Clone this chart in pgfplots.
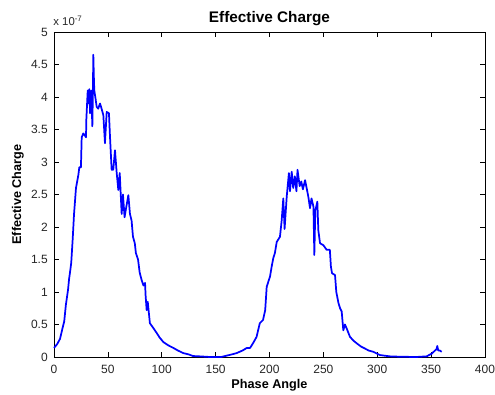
\documentclass[border=0pt]{standalone}
\usepackage{pgfplots}
\pgfplotsset{compat=1.18}
\usepackage{fontspec}
\setmainfont{Liberation Sans}
\setsansfont{Liberation Sans}
\begin{document}
\begin{tikzpicture}[x=1pt,y=1pt]
\useasboundingbox (-40.5pt,-27.75pt) rectangle (330.75pt,267.75pt);
\begin{axis}[
  at={(0,0)}, anchor=south west,
  scale only axis,
  width=323.25pt, height=243.75pt,
  xmin=0, xmax=400, ymin=0, ymax=5,
  xtick={0,50,...,400},
  ytick={0,0.5,...,5},
  yticklabels={0,0.5,1,1.5,2,2.5,3,3.5,4,4.5,5},
  tick align=inside,
  xtick pos=both, ytick pos=both,
  major tick length=3.5pt,
  minor tick num=0,
  /pgf/number format/assume math mode=true,
  tick label style={font=\fontsize{9}{10}\selectfont, text=black!85},
  xticklabel style={anchor=base, inner sep=0pt, yshift=-12pt},
  yticklabel style={anchor=east, inner sep=0pt, xshift=-4.5pt},
  axis line style={black, line width=0.5pt},
  every tick/.style={black, line width=0.5pt},
  title={\bfseries Effective Charge},
  title style={font=\fontsize{11.5}{12}\selectfont, at={(axis description cs:0.5,1.004)}, anchor=base, inner sep=0pt},
  xlabel={\bfseries Phase Angle},
  ylabel={\bfseries Effective Charge},
  label style={font=\fontsize{9.5}{10}\selectfont},
  xlabel style={at={(axis description cs:0.5,-0.0954)}, anchor=base, inner sep=0pt},
  ylabel style={at={(axis description cs:-0.084,0.5)}, anchor=center, inner sep=0pt},
  clip=false,
]
\addplot[blue, line width=1.3pt, line join=round] coordinates {
(0,0.14) (3,0.2) (5.6,0.28) (8,0.45) (9.5,0.55) (11,0.8) (13,1.03) (14,1.2) (15,1.32) (16,1.45) (17.3,1.8) (18.6,2.2) (20.4,2.6) (22.6,2.8) (23.5,2.92) (25,2.92) (25.7,3.38) (27.2,3.44) (29,3.4) (29.7,3.38) (30,3.65) (31.3,4.1) (32.2,3.9) (32.8,4.12) (33.5,3.75) (34.5,4.1) (35.6,3.55) (36.1,4.1) (36.5,4.65) (37,4.3) (37.4,4.1) (38.6,3.97) (39.6,3.85) (41,3.82) (42.7,3.9) (44,3.83) (45.8,3.72) (47.3,3.29) (48,3.5) (48.9,3.77) (51,3.75) (52,3.38) (53.5,2.88) (55,2.88) (56.6,3.18) (58.2,2.83) (59.7,2.57) (61,2.83) (62.8,2.2) (64,2.5) (65.5,2.15) (67,2.3) (69,2.49) (70.5,2.2) (72,2.1) (73.3,1.85) (75,1.75) (76,1.6) (78,1.5) (79.5,1.3) (81.4,1.18) (83,1.1) (84.5,1.14) (85,0.95) (86,0.72) (87,0.85) (89,0.52) (92,0.45) (95.3,0.37) (98,0.3) (101.5,0.23) (106,0.18) (110.7,0.14) (115,0.1) (120,0.06) (125,0.04) (129,0.015) (135,0.01) (145,0.0) (155,0.0) (160,0.02) (165,0.04) (169.5,0.06) (175,0.1) (179,0.14) (182,0.14) (185,0.22) (188,0.31) (191,0.52) (194,0.57) (196,0.72) (197.4,1.08) (200.5,1.24) (202,1.39) (203.5,1.52) (205,1.6) (206.7,1.77) (209.7,1.85) (211.3,2.1) (212.8,2.44) (214,1.97) (216,2.47) (218,2.83) (219,2.55) (220.6,2.85) (222,2.6) (223.5,2.78) (225,2.55) (226,2.88) (228,2.63) (229.5,2.7) (231,2.58) (233,2.72) (234.7,2.58) (236,2.47) (237.6,2.29) (239,2.44) (240.8,2.31) (241.6,1.57) (242.5,2.25) (244.4,2.39) (245.3,1.95) (246.9,1.75) (250,1.72) (253,1.65) (256,1.65) (257,1.39) (258,1.29) (260.8,1.26) (262,1.0) (264,0.83) (265.5,0.75) (267,0.7) (268.5,0.41) (270,0.5) (271.6,0.44) (274.7,0.31) (278,0.25) (281,0.21) (285,0.16) (288.6,0.13) (292,0.1) (296.4,0.08) (300,0.05) (302.5,0.03) (307,0.02) (311.8,0.01) (320,0.005) (336,0.0) (345.9,0.01) (348,0.03) (350.5,0.05) (353.6,0.1) (355,0.12) (355.7,0.17) (356.6,0.1) (358,0.1) (359.8,0.08)
};
\node[anchor=base west, inner sep=0pt, font=\fontsize{8.5}{9}\selectfont, text=black!85] at (axis description cs:-0.002,1.0215) {x 10\textsuperscript{-7}};
\end{axis}
\end{tikzpicture}
\end{document}
